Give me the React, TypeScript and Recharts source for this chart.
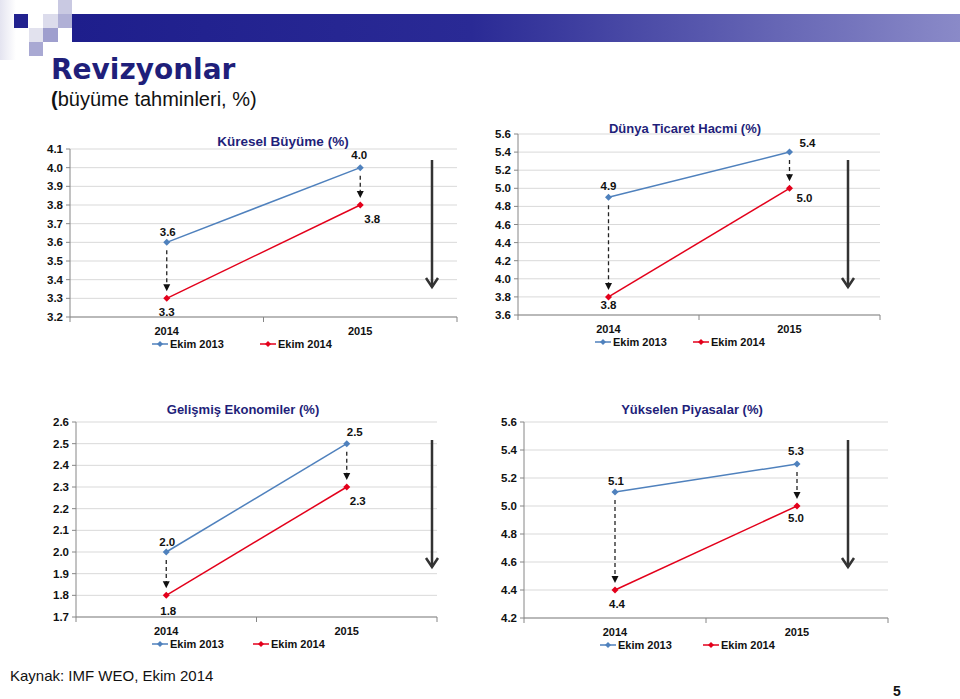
import React from 'react';
import {
  ComposedChart,
  Line,
  XAxis,
  YAxis,
  CartesianGrid,
  Legend,
  ReferenceLine,
  LabelList,
} from 'recharts';

// ---- data ----
const years = ['2014', '2015'];
const seriesNames = ['Ekim 2013', 'Ekim 2014'];

const kureselEkim2013 = [3.6, 4.0];
const kureselEkim2014 = [3.3, 3.8];
const kureselTicks = [3.2, 3.3, 3.4, 3.5, 3.6, 3.7, 3.8, 3.9, 4.0, 4.1];

const ticaretEkim2013 = [4.9, 5.4];
const ticaretEkim2014 = [3.8, 5.0];
const ticaretTicks = [3.6, 3.8, 4.0, 4.2, 4.4, 4.6, 4.8, 5.0, 5.2, 5.4, 5.6];

const gelismisEkim2013 = [2.0, 2.5];
const gelismisEkim2014 = [1.8, 2.3];
const gelismisTicks = [1.7, 1.8, 1.9, 2.0, 2.1, 2.2, 2.3, 2.4, 2.5, 2.6];

const yukselenEkim2013 = [5.1, 5.3];
const yukselenEkim2014 = [4.4, 5.0];
const yukselenTicks = [4.2, 4.4, 4.6, 4.8, 5.0, 5.2, 5.4, 5.6];

const FONT = '"Liberation Sans", Arial, sans-serif';
const NARROW = '"Liberation Sans Narrow", "Arial Narrow", "Liberation Sans", Arial, sans-serif';
const BLUE = '#4F81BD';
const RED = '#E3001B';
const NAVY = '#1F1F7A';
const AXIS = '#868686';
const GRID = '#D9D9D9';

const YAXIS_W = 70;
const MARGIN_R = 13;

const diamond = (cx: number, cy: number, r: number) =>
  `M${cx},${cy - r} L${cx + r},${cy} L${cx},${cy + r} L${cx - r},${cy} Z`;

const makeDot = (color: string) => (p: any) => (
  <path key={`d-${p.index}`} d={diamond(p.cx, p.cy, 3.5)} fill={color} stroke="none" />
);

// dashed revision arrow between the two forecasts
const DashedArrow = (p: any) => {
  const x = p.x1;
  const top = Math.min(p.y1, p.y2) + 8;
  const tip = Math.max(p.y1, p.y2) - 7;
  return (
    <g>
      <line x1={x} y1={top} x2={x} y2={tip - 6} stroke="#222" strokeWidth={1.3} strokeDasharray="4 3" />
      <path d={`M${x - 3.5},${tip - 7} L${x + 3.5},${tip - 7} L${x},${tip} Z`} fill="#111" />
    </g>
  );
};

const makeLabel = (offsets: number[][]) => (p: any) => {
  const [dx, dy] = offsets[p.index] || [0, 0];
  return (
    <text
      key={`l-${p.index}`}
      x={p.x + dx}
      y={p.y + dy}
      textAnchor="middle"
      dominantBaseline="central"
      fontFamily={FONT}
      fontWeight="bold"
      fontSize={11.5}
      fill="#111"
    >
      {Number(p.value).toFixed(1)}
    </text>
  );
};

const LegendIcon = ({ color }: { color: string }) => (
  <svg width={16} height={10} style={{ display: 'block' }}>
    <line x1={0} y1={5} x2={16} y2={5} stroke={color} strokeWidth={1.5} />
    <path d={diamond(8, 5, 3)} fill={color} />
  </svg>
);

type ChartProps = {
  title: string;
  titleFont: string;
  titleSize: number;
  ekim2013: number[];
  ekim2014: number[];
  ticks: number[];
  left: number;
  top: number;
  width: number;
  height: number;
  marginTop: number;
  titleX: number;
  titleY: number;
  legendLeft: number;
  legendGap: number;
  labels2013: number[][];
  labels2014: number[][];
};

const RevisionChart = (c: ChartProps) => {
  const data = years.map((y, i) => ({ year: y, e2013: c.ekim2013[i], e2014: c.ekim2014[i] }));
  // categories sit in the middle of their slots, ticks between them (Excel style)
  const halfBand = (c.width - YAXIS_W - MARGIN_R) / (years.length * 2);

  const YearTick = (p: any) => {
    const { x, y, payload, index } = p;
    return (
      <g>
        {index === 0 && <line x1={x - halfBand} y1={y} x2={x - halfBand} y2={y + 5} stroke={AXIS} />}
        <line x1={x + halfBand} y1={y} x2={x + halfBand} y2={y + 5} stroke={AXIS} />
        <text x={x} y={y + 18} textAnchor="middle" fontFamily={FONT} fontWeight="bold" fontSize={11} fill="#111">
          {payload.value}
        </text>
      </g>
    );
  };

  const renderLegend = () => (
    <div style={{ display: 'flex', height: 14, alignItems: 'center', paddingLeft: c.legendLeft }}>
      {seriesNames.map((n, i) => (
        <div
          key={n}
          style={{ display: 'flex', alignItems: 'center', width: i === 0 ? c.legendGap : undefined }}
        >
          <LegendIcon color={i === 0 ? BLUE : RED} />
          <span
            style={{
              marginLeft: 2,
              fontFamily: FONT,
              fontWeight: 'bold',
              fontSize: 11,
              color: '#111',
            }}
          >
            {n}
          </span>
        </div>
      ))}
    </div>
  );

  return (
    <div style={{ position: 'absolute', left: c.left, top: c.top, width: c.width, height: c.height }}>
      <ComposedChart
        width={c.width}
        height={c.height}
        data={data}
        margin={{ top: c.marginTop, right: MARGIN_R, left: 0, bottom: 4 }}
      >
        <CartesianGrid vertical={false} stroke={GRID} />
        <XAxis
          dataKey="year"
          scale="point"
          padding={{ left: halfBand, right: halfBand }}
          axisLine={{ stroke: AXIS }}
          tickLine={false}
          tickSize={0}
          tickMargin={0}
          height={20}
          tick={<YearTick />}
        />
        <YAxis
          type="number"
          domain={[c.ticks[0], c.ticks[c.ticks.length - 1]]}
          ticks={c.ticks}
          interval={0}
          width={YAXIS_W}
          axisLine={{ stroke: AXIS }}
          tickLine={{ stroke: AXIS }}
          tickSize={4}
          tickMargin={3}
          tick={{ fontFamily: FONT, fontWeight: 'bold', fontSize: 11.5, fill: '#111' }}
          tickFormatter={(v: number) => v.toFixed(1)}
        />
        <Legend
          verticalAlign="bottom"
          height={14}
          content={renderLegend}
          wrapperStyle={{ left: 0, width: c.width, bottom: 4 }}
        />
        {data.map((d) => (
          <ReferenceLine
            key={`ra-${d.year}`}
            segment={[
              { x: d.year, y: d.e2013 },
              { x: d.year, y: d.e2014 },
            ]}
            shape={DashedArrow}
          />
        ))}
        <Line
          dataKey="e2013"
          name={seriesNames[0]}
          stroke={BLUE}
          strokeWidth={1.5}
          dot={makeDot(BLUE)}
          activeDot={false}
          isAnimationActive={false}
        >
          <LabelList dataKey="e2013" content={makeLabel(c.labels2013)} />
        </Line>
        <Line
          dataKey="e2014"
          name={seriesNames[1]}
          stroke={RED}
          strokeWidth={1.5}
          dot={makeDot(RED)}
          activeDot={false}
          isAnimationActive={false}
        >
          <LabelList dataKey="e2014" content={makeLabel(c.labels2014)} />
        </Line>
      </ComposedChart>
      <div
        style={{
          position: 'absolute',
          left: c.titleX - c.left - 150,
          top: c.titleY - c.top - 9,
          width: 300,
          textAlign: 'center',
          fontFamily: c.titleFont,
          fontWeight: 'bold',
          fontSize: c.titleSize,
          lineHeight: '18px',
          color: NAVY,
          whiteSpace: 'nowrap',
        }}
      >
        {c.title}
      </div>
    </div>
  );
};

// big "down" arrows to the right of each chart
const bigArrows = [
  { x: 432, y1: 160, y2: 287 },
  { x: 848, y1: 160, y2: 287 },
  { x: 432, y1: 440, y2: 567 },
  { x: 848, y1: 440, y2: 567 },
];

const App = () => (
  <div
    style={{
      position: 'absolute',
      left: 0,
      top: 0,
      width: 960,
      height: 699,
      overflow: 'hidden',
      background: '#fff',
    }}
  >
    {/* slide header decoration */}
    <div style={{ position: 'absolute', left: 0, top: 0, width: 16, height: 60, background: 'linear-gradient(90deg,#e4e4f0,#fff)' }} />
    <div style={{ position: 'absolute', left: 58, top: 0, width: 14, height: 14, background: '#c9c9e2' }} />
    <div style={{ position: 'absolute', left: 14, top: 14, width: 14, height: 14, background: '#22228f' }} />
    <div style={{ position: 'absolute', left: 43, top: 14, width: 15, height: 14, background: '#dcdcec' }} />
    <div style={{ position: 'absolute', left: 58, top: 14, width: 14, height: 14, background: '#b0b0d6' }} />
    <div style={{ position: 'absolute', left: 72, top: 14, width: 888, height: 28, background: 'linear-gradient(90deg,#1e1e8c 0%,#2a2a95 45%,#8a8ac8 100%)' }} />
    <div style={{ position: 'absolute', left: 43, top: 28, width: 15, height: 14, background: '#9f9fce' }} />
    <div style={{ position: 'absolute', left: 29, top: 28, width: 14, height: 14, background: '#e2e2ee' }} />
    <div style={{ position: 'absolute', left: 29, top: 42, width: 14, height: 14, background: '#a9a9d3' }} />

    <div style={{ position: 'absolute', left: 51, top: 52, fontFamily: '"DejaVu Sans", sans-serif', fontWeight: 'bold', fontSize: 28, color: NAVY, lineHeight: '36px' }}>
      Revizyonlar
    </div>
    <div style={{ position: 'absolute', left: 51, top: 87, fontFamily: FONT, fontSize: 20, color: '#111', lineHeight: '24px' }}>
      <b>(</b>büyüme tahminleri, %)
    </div>

    <RevisionChart
      title="Küresel Büyüme (%)"
      titleFont={FONT}
      titleSize={13.5}
      ekim2013={kureselEkim2013}
      ekim2014={kureselEkim2014}
      ticks={kureselTicks}
      left={0}
      top={130}
      width={470}
      height={225}
      marginTop={19}
      titleX={283}
      titleY={142}
      legendLeft={152}
      legendGap={108}
      labels2013={[[1, -10], [-1, -13]]}
      labels2014={[[0, 14], [12, 14]]}
    />
    <RevisionChart
      title="Dünya Ticaret Hacmi (%)"
      titleFont={NARROW}
      titleSize={13}
      ekim2013={ticaretEkim2013}
      ekim2014={ticaretEkim2014}
      ticks={ticaretTicks}
      left={448}
      top={115}
      width={445}
      height={238}
      marginTop={19}
      titleX={685}
      titleY={129}
      legendLeft={147}
      legendGap={98}
      labels2013={[[0, -11], [18, -9]]}
      labels2014={[[0, 8], [15, 10]]}
    />
    <RevisionChart
      title="Gelişmiş Ekonomiler (%)"
      titleFont={NARROW}
      titleSize={13}
      ekim2013={gelismisEkim2013}
      ekim2014={gelismisEkim2014}
      ticks={gelismisTicks}
      left={6}
      top={403}
      width={444}
      height={252}
      marginTop={19}
      titleX={243}
      titleY={410}
      legendLeft={146}
      legendGap={101}
      labels2013={[[1, -10], [8, -12]]}
      labels2014={[[2, 16], [11, 14]]}
    />
    <RevisionChart
      title="Yükselen Piyasalar (%)"
      titleFont={NARROW}
      titleSize={13}
      ekim2013={yukselenEkim2013}
      ekim2014={yukselenEkim2014}
      ticks={yukselenTicks}
      left={454}
      top={403}
      width={447}
      height={253}
      marginTop={19}
      titleX={692}
      titleY={410}
      legendLeft={146}
      legendGap={103}
      labels2013={[[1, -11], [-1, -13]]}
      labels2014={[[2, 14], [-1, 12]]}
    />

    <svg width={960} height={699} style={{ position: 'absolute', left: 0, top: 0, pointerEvents: 'none' }}>
      {bigArrows.map((a, i) => (
        <g key={i} stroke="#333" strokeWidth={2.5} fill="none">
          <line x1={a.x} y1={a.y1} x2={a.x} y2={a.y2} />
          <path d={`M${a.x - 6},${a.y2 - 9} L${a.x},${a.y2} L${a.x + 6},${a.y2 - 9}`} />
        </g>
      ))}
    </svg>

    <div style={{ position: 'absolute', left: 10, top: 667, fontFamily: NARROW, fontSize: 15, color: '#111' }}>
      Kaynak: IMF WEO, Ekim 2014
    </div>
    <div style={{ position: 'absolute', left: 893, top: 683, fontFamily: FONT, fontWeight: 'bold', fontSize: 14, color: '#111' }}>
      5
    </div>
  </div>
);

export default App;
